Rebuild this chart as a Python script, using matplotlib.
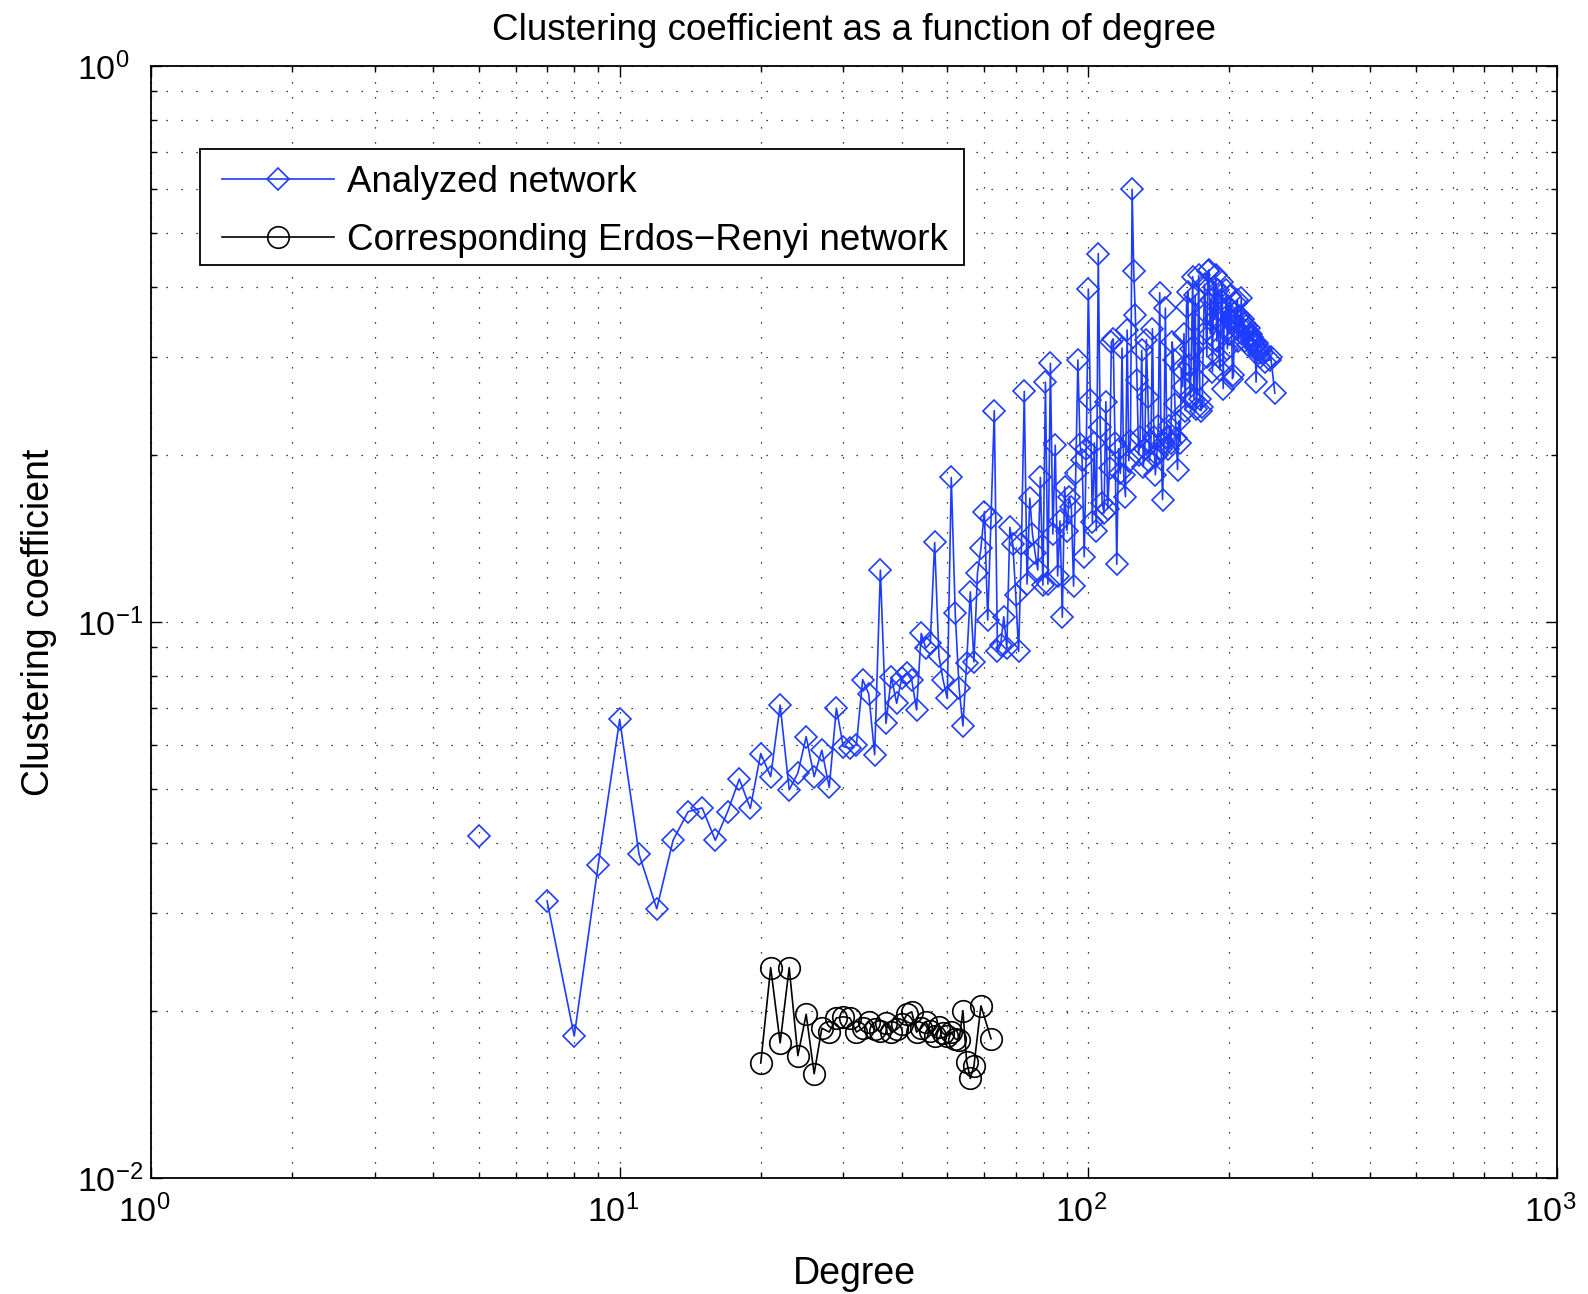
import numpy as np
import matplotlib
matplotlib.use('Agg')
import matplotlib.pyplot as plt
from matplotlib.ticker import NullFormatter
from matplotlib.transforms import ScaledTranslation
from matplotlib.patches import Rectangle

nan = np.nan

# degree -> clustering coefficient, analyzed network (6 has no nodes)
analyzed_degree = list(range(5, 234)) + [235, 238, 244, 245, 250]
analyzed_cc = [
    0.0412, nan, 0.0315, 0.0180, 0.0366, 0.0668, 0.0382, 0.0305, 0.0405, 0.0456,   # 5-14
    0.0463, 0.0405, 0.0456, 0.0522, 0.0462, 0.0580, 0.0527, 0.0709, 0.0499, 0.0535,  # 15-24
    0.0622, 0.0527, 0.0588, 0.0504, 0.0700, 0.0597, 0.0593, 0.0602, 0.0788, 0.0742,  # 25-34
    0.0577, 0.1240, 0.0657, 0.0797, 0.0714, 0.0794, 0.0810, 0.0786, 0.0695, 0.0954,  # 35-44
    0.0898, 0.0916, 0.1390, 0.0868, 0.0786, 0.0729, 0.1820, 0.1037, 0.0760, 0.0650,  # 45-54
    0.0845, 0.1133, 0.0848, 0.1224, 0.1357, 0.1580, 0.1008, 0.1540, 0.2400, 0.0885,  # 55-64
    0.0910, 0.1022, 0.0898, 0.1480, 0.1380, 0.1120, 0.0885, 0.1380, 0.2600, 0.1170,  # 65-74
    0.1670, 0.1440, 0.1330, 0.1240, 0.1820, 0.1165, 0.2700, 0.1170, 0.2920, 0.1440,  # 75-84
    0.2080, 0.1210, 0.1520, 0.1020, 0.1750, 0.1460, 0.1680, 0.1610, 0.1160, 0.1850,  # 85-94
    0.2960, 0.2090, 0.1960, 0.1310, 0.2050, 0.3970, 0.2510, 0.1510, 0.2100, 0.1460,  # 95-104
    0.4600, 0.2240, 0.1640, 0.1570, 0.2490, 0.1600, 0.1890, 0.3190, 0.3230, 0.2100,  # 105-114
    0.1270, 0.2050, 0.1850, 0.3110, 0.1840, 0.1680, 0.3350, 0.1950, 0.2120, 0.6000,  # 115-124
    0.4270, 0.3560, 0.2720, 0.2000, 0.2150, 0.3080, 0.1900, 0.2050, 0.3220, 0.2540,  # 125-134
    0.1950, 0.2100, 0.3370, 0.2150, 0.1840, 0.2000, 0.2250, 0.3910, 0.2050, 0.1660,  # 135-144
    0.2100, 0.3670, 0.2150, 0.2050, 0.2250, 0.2100, 0.3190, 0.2960, 0.2470, 0.2140,  # 145-154
    0.1880, 0.2300, 0.2100, 0.2850, 0.2650, 0.3300, 0.2400, 0.3690, 0.3930, 0.2900,  # 155-164
    0.2540, 0.3100, 0.4180, 0.2510, 0.3870, 0.2420, 0.2720, 0.4200, 0.2520, 0.2400,  # 165-174
    0.2440, 0.3300, 0.4050, 0.3600, 0.3000, 0.4270, 0.4300, 0.3300, 0.3800, 0.2820,  # 175-184
    0.4000, 0.3500, 0.4200, 0.3200, 0.3950, 0.3000, 0.2840, 0.3800, 0.4090, 0.2630,  # 185-194
    0.3600, 0.3400, 0.3950, 0.3100, 0.3700, 0.3300, 0.3850, 0.3500, 0.2740, 0.2780,  # 195-204
    0.3600, 0.3400, 0.3750, 0.3790, 0.3200, 0.3550, 0.3400, 0.3820, 0.3300, 0.3500,  # 205-214
    0.3450, 0.3200, 0.3400, 0.3350, 0.3150, 0.3380, 0.3250, 0.3300, 0.3200, 0.3250,  # 215-224
    0.3180, 0.3200, 0.3120, 0.2700, 0.3170, 0.3100, 0.3050, 0.3000, 0.3100,          # 225-233
    0.3050, 0.2940, 0.2960, 0.3000, 0.2580,                                          # tail
]

# corresponding Erdos-Renyi network
er_degree = list(range(20, 58)) + [59, 62]
er_cc = [
    0.0161, 0.0239, 0.0175, 0.0239, 0.0166, 0.0197, 0.0154, 0.0186, 0.0183, 0.0194,  # 20-29
    0.0195, 0.0194, 0.0183, 0.0186, 0.0191, 0.0185, 0.0184, 0.0190, 0.0183, 0.0185,  # 30-39
    0.0189, 0.0197, 0.0199, 0.0183, 0.0186, 0.0191, 0.0184, 0.0180, 0.0187, 0.0182,  # 40-49
    0.0180, 0.0183, 0.0178, 0.0177, 0.0200, 0.0162, 0.0151, 0.0159,                  # 50-57
    0.0204, 0.0178,
]

plt.rcParams['font.family'] = ['Liberation Sans', 'DejaVu Sans']
plt.rcParams['mathtext.fontset'] = 'custom'
plt.rcParams['mathtext.rm'] = 'Liberation Sans'
plt.rcParams['mathtext.it'] = 'Liberation Sans:italic'
plt.rcParams['mathtext.bf'] = 'Liberation Sans:bold'

W, H = 1588, 1294
fig = plt.figure(figsize=(W / 100, H / 100), dpi=100)
ax = fig.add_axes([151 / W, 1 - 1178 / H, 1406 / W, 1112 / H])
ax.set_xscale('log')
ax.set_yscale('log')

ax.plot(analyzed_degree, analyzed_cc, '-', color='#1e3cff', lw=1.2,
        marker='D', ms=11, mfc='none', mew=1.2, label='Analyzed network')
ax.plot(er_degree, er_cc, '-', color='k', lw=1.2,
        marker='o', ms=15.5, mfc='none', mew=1.2,
        label='Corresponding Erdos\u2212Renyi network')

ax.set_xlim(1, 1000)
ax.set_ylim(0.01, 1)
ax.grid(True, which='both', color='k', lw=0.9, linestyle=(0, (1, 11)))
ax.xaxis.set_minor_formatter(NullFormatter())
ax.yaxis.set_minor_formatter(NullFormatter())
ax.tick_params(which='both', direction='in', top=True, right=True,
               labelsize=24.5, width=1.0)
ax.tick_params(which='major', length=8)
ax.tick_params(which='minor', length=4.5)
ax.tick_params(axis='x', pad=12)
ax.tick_params(axis='y', pad=53)
for s in ax.spines.values():
    s.set_linewidth(1.3)

# MATLAB-like placement: y labels start at a common left edge,
# x labels sit a little left of the tick
for lbl in ax.get_yticklabels():
    lbl.set_horizontalalignment('left')
for lbl in ax.get_xticklabels():
    lbl.set_transform(lbl.get_transform() + ScaledTranslation(-0.07, 0, fig.dpi_scale_trans))

ax.set_title('Clustering coefficient as a function of degree', fontsize=26.5, pad=18.5)
ax.set_xlabel('Degree', fontsize=27, labelpad=19)
ax.set_ylabel('Clustering coefficient', fontsize=27, labelpad=15)

# legend box drawn separately so the padding matches the original
x0, x1 = (200 - 151) / 1406, (964 - 151) / 1406
y0, y1 = (1178 - 265) / 1112, (1178 - 149) / 1112
ax.add_patch(Rectangle((x0, y0), x1 - x0, y1 - y0, transform=ax.transAxes,
                       facecolor='white', edgecolor='k', lw=1.3, zorder=4.9))
leg = ax.legend(loc='upper left', bbox_to_anchor=((222 - 151) / 1406, (1178 - 165) / 1112),
                borderaxespad=0, fontsize=26.5, handlelength=3.05, handletextpad=0.35,
                borderpad=0, labelspacing=0.62, frameon=False)

plt.savefig('out.png', dpi=100)
plt.close()
